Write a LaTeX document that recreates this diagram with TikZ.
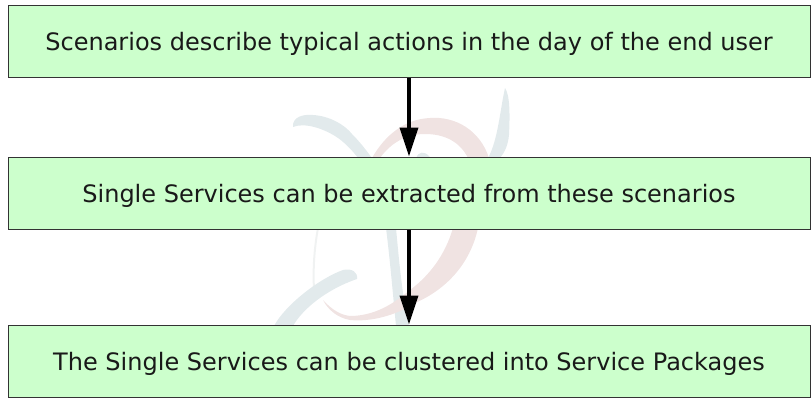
\documentclass[tikz,border=0pt]{standalone}
\usepackage{fontspec}
\setmainfont{DejaVu Sans}
\usetikzlibrary{arrows.meta}
\definecolor{boxfill}{HTML}{CCFFCC}
\definecolor{wblue}{HTML}{E2EAEC}
\definecolor{wred}{HTML}{F0E3E2}
\definecolor{wpale}{HTML}{F0F2F2}
\newcommand{\lowered}[1]{\raisebox{-9.5pt}[0pt][0pt]{#1}}
\tikzset{
  x=1pt,y=-1pt,
  stagebox/.style={draw=black!80,line width=1pt,fill=boxfill,minimum width=802pt,minimum height=72pt,inner sep=0pt,font=\fontsize{24pt}{28pt}\selectfont,text=black!90},
  flow/.style={line width=3.5pt,draw=black,-{Triangle[length=29pt,width=18pt]}},
}
\begin{document}
\begin{tikzpicture}
\useasboundingbox (0,0) rectangle (811,399);
% faint watermark
\fill[wblue] (293,127) .. controls (292,117) and (303,114) .. (313,115) .. controls (330,116) and (345,125) .. (352,134) .. controls (360,142) and (366,150) .. (372,158) -- (358,158) .. controls (352,150) and (345,143) .. (338,138) .. controls (325,129) and (305,122) .. (293,127) -- cycle;
\fill[wred] (372,158) .. controls (385,135) and (405,119) .. (430,118) .. controls (455,116) and (480,130) .. (489,158) -- (468,158) .. controls (460,142) and (445,134) .. (425,134) .. controls (405,134) and (390,144) .. (380,158) -- cycle;
\fill[wblue] (505,88) .. controls (510,95) and (510,115) .. (509,135) .. controls (508,145) and (505,152) .. (500,158) -- (488,158) .. controls (498,140) and (500,110) .. (505,88) -- cycle;
\fill[wblue] (416,158) .. controls (418,152) and (424,150) .. (430,157) -- cycle;
\fill[wblue] (386,228) -- (396,228) .. controls (399,260) and (402,295) .. (409,326) -- (396,326) .. controls (393,295) and (390,260) .. (386,228) -- cycle;
\fill[wred] (453,228) -- (478,228) .. controls (470,265) and (445,290) .. (415,303) .. controls (395,316) and (370,322) .. (350,320) .. controls (338,318) and (328,310) .. (323,300) .. controls (332,310) and (342,316) .. (352,316) .. controls (375,315) and (392,305) .. (410,290) .. controls (430,275) and (445,255) .. (453,228) -- cycle;
\fill[wpale] (317,228) -- (319,228) .. controls (315,250) and (314,270) .. (315,290) -- (313,290) .. controls (312,270) and (313,250) .. (317,228) -- cycle;
\fill[wblue] (357,279) .. controls (358,272) and (352,268) .. (343,270) .. controls (320,278) and (285,305) .. (274,326) -- (293,326) .. controls (302,310) and (325,290) .. (357,279) -- cycle;
% stages
\node[stagebox] (a) at (409,41) {\lowered{Scenarios describe typical actions in the day of the end user}};
\node[stagebox] (b) at (409,193) {\lowered{Single Services can be extracted from these scenarios}};
\node[stagebox] (c) at (409,361) {\lowered{The Single Services can be clustered into Service Packages}};
\draw[flow] (a.south) -- (b.north);
\draw[flow] (b.south) -- (c.north);
\end{tikzpicture}
\end{document}
